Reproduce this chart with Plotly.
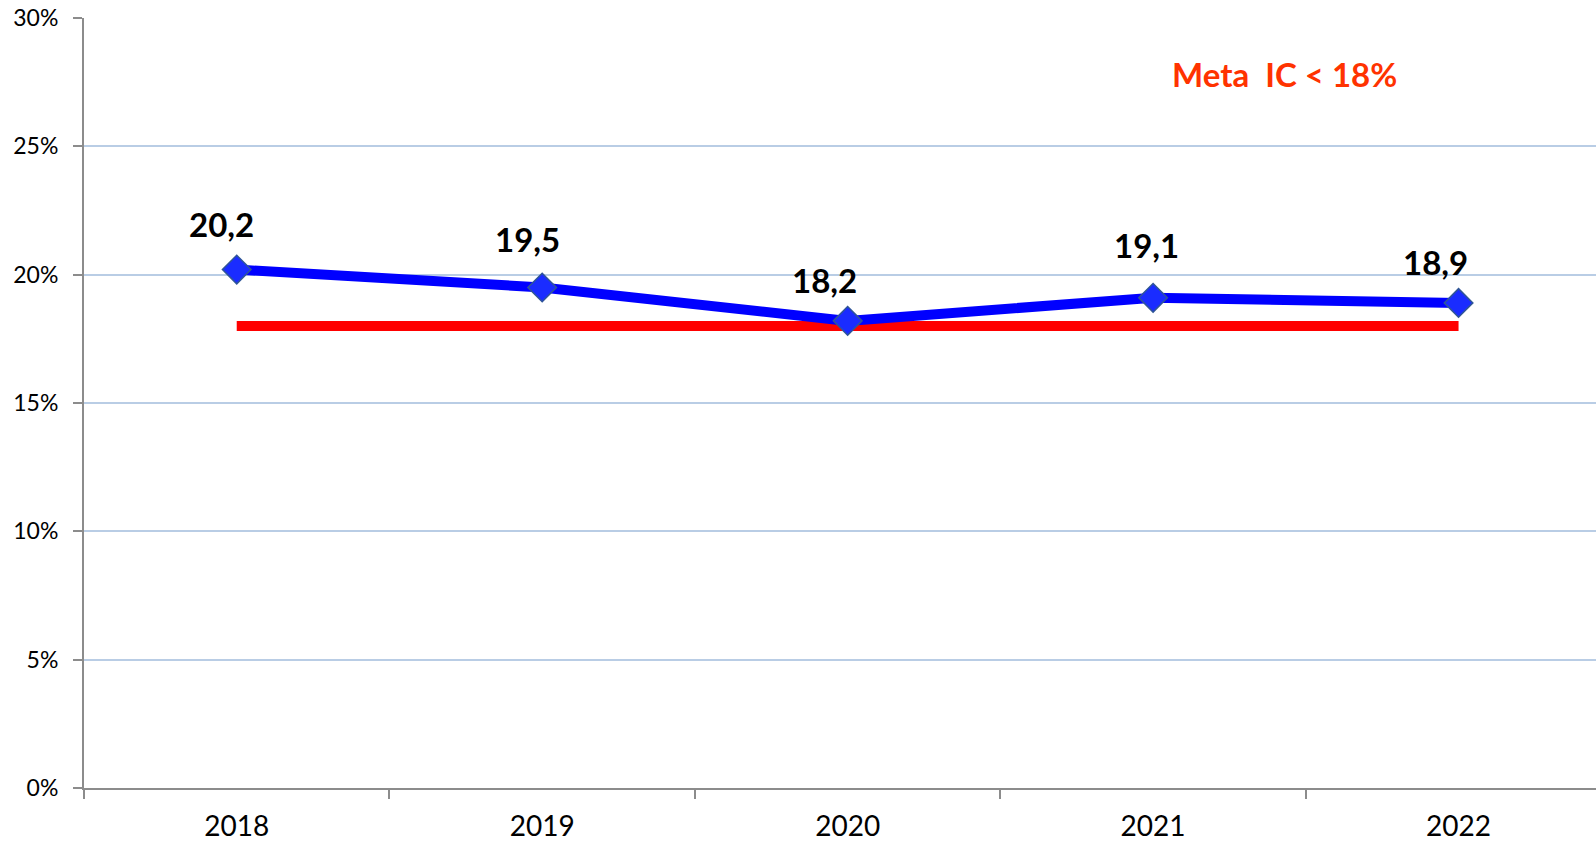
import plotly.graph_objects as go

years = ["2018", "2019", "2020", "2021", "2022"]
values = [20.2, 19.5, 18.2, 19.1, 18.9]
labels = ["20,2", "19,5", "18,2", "19,1", "18,9"]
target = [18, 18, 18, 18, 18]
y_ticks = [0, 5, 10, 15, 20, 25, 30]
y_tick_text = ["0%", "5%", "10%", "15%", "20%", "25%", "30%"]

fig = go.Figure()
fig.add_trace(go.Scatter(x=years, y=target, mode="lines",
                         line=dict(color="#ff0000", width=10), hoverinfo="skip"))
fig.add_trace(go.Scatter(x=years, y=values, mode="lines+markers",
                         line=dict(color="#0000ff", width=10),
                         marker=dict(symbol="diamond", size=22, color="#1a2cff",
                                     line=dict(color="#2f5597", width=1.5))))

# label placement offsets (pixels) as in the original chart
label_dx = [-15, -15, -23, -7, -23]
label_dy = [46, 49, 41, 53, 41]
for i, (v, t) in enumerate(zip(values, labels)):
    fig.add_annotation(x=i, y=v, xref="x", yref="y", text=t, showarrow=False,
                       xshift=label_dx[i], yshift=label_dy[i],
                       font=dict(family="Lato", size=33, color="black", weight="bold"))

fig.add_annotation(x=0.794, y=0.927, xref="paper", yref="paper", text="Meta  IC < 18%",
                   showarrow=False, xanchor="center", yanchor="middle",
                   font=dict(family="Lato", size=33, color="#ff3300", weight="bold"))

fig.update_layout(
    width=1596, height=843, showlegend=False,
    paper_bgcolor="white", plot_bgcolor="white",
    margin=dict(l=84, r=0, t=18, b=55, autoexpand=False),
    xaxis=dict(type="category", range=[-0.5, 4.45], showgrid=False, automargin=False,
               showline=True, linecolor="#8c8c8c", linewidth=2,
               ticks="outside", tickson="boundaries", ticklen=9, tickcolor="#8c8c8c",
               tickwidth=2, ticklabelstandoff=12,
               tickfont=dict(family="Lato", size=28, color="black")),
    yaxis=dict(range=[0, 30], tickvals=y_ticks, ticktext=y_tick_text, automargin=False,
               showgrid=True, gridcolor="#b9cde5", gridwidth=1.5,
               showline=True, linecolor="#8c8c8c", linewidth=2,
               ticks="outside", ticklen=9, tickcolor="#8c8c8c", tickwidth=2,
               ticklabelstandoff=10, zeroline=False,
               tickfont=dict(family="Lato", size=23, color="black")),
)

fig.write_html("out.html", config={"displayModeBar": False},
               post_script="document.body.style.margin='0';document.body.style.overflow='hidden';")
